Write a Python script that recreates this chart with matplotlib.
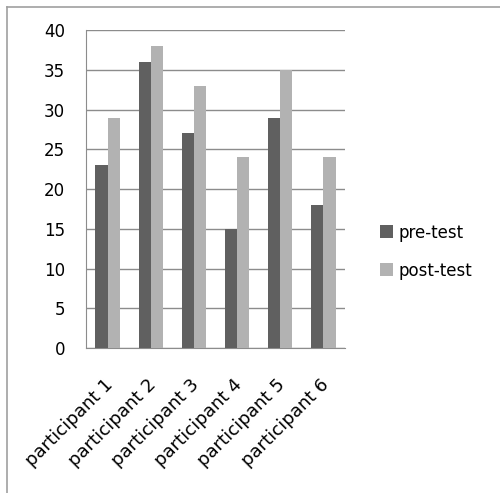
import matplotlib.pyplot as plt
import matplotlib.transforms as mtransforms
import numpy as np
from matplotlib.lines import Line2D

participants = ['participant 1', 'participant 2', 'participant 3',
                'participant 4', 'participant 5', 'participant 6']
pre_test = [23, 36, 27, 15, 29, 18]
post_test = [29, 38, 33, 24, 35, 24]

plt.rcParams['font.family'] = ['DejaVu Sans']

fig = plt.figure(figsize=(5, 4.93), dpi=100)
ax = fig.add_axes([0.172, 0.294, 0.518, 0.645])

x = np.arange(len(participants))
w = 0.28
ax.bar(x - w / 2, pre_test, w, color='#606060', label='pre-test', zorder=3)
ax.bar(x + w / 2, post_test, w, color='#b2b2b2', label='post-test', zorder=3)

ax.set_xlim(-0.5, len(participants) - 0.5)
ax.set_ylim(0, 40)
ax.set_yticks(range(0, 41, 5))
ax.grid(axis='y', color='#8c8c8c', linewidth=1, zorder=0)
ax.set_xticks(x)
ax.set_xticklabels(participants, rotation=45, ha='right',
                   rotation_mode='anchor', fontsize=13)
ax.tick_params(axis='y', labelsize=12, length=0, pad=15)
ax.tick_params(axis='x', length=0, pad=20)
# nudge the slanted labels a little to the left
shift = mtransforms.ScaledTranslation(-4 / 100, 0, fig.dpi_scale_trans)
for lab in ax.get_xticklabels():
    lab.set_transform(lab.get_transform() + shift)
for s in ['top', 'right']:
    ax.spines[s].set_visible(False)
for s in ['left', 'bottom']:
    ax.spines[s].set_color('#8c8c8c')

ax.legend(loc='center left', bbox_to_anchor=(1.135, 0.3035), frameon=False,
          fontsize=12, handlelength=0.78, handleheight=0.78,
          handletextpad=0.36, labelspacing=1.2,
          borderpad=0, borderaxespad=0)

# outer chart frame (only top and left edges fall inside the picture)
fig.add_artist(Line2D([7 / 500, 1], [1 - 6.5 / 493] * 2,
                      transform=fig.transFigure, color='#a0a0a0', lw=1.2))
fig.add_artist(Line2D([7 / 500] * 2, [0, 1 - 6.5 / 493],
                      transform=fig.transFigure, color='#a0a0a0', lw=1.2))

fig.savefig('out.png', dpi=100)
